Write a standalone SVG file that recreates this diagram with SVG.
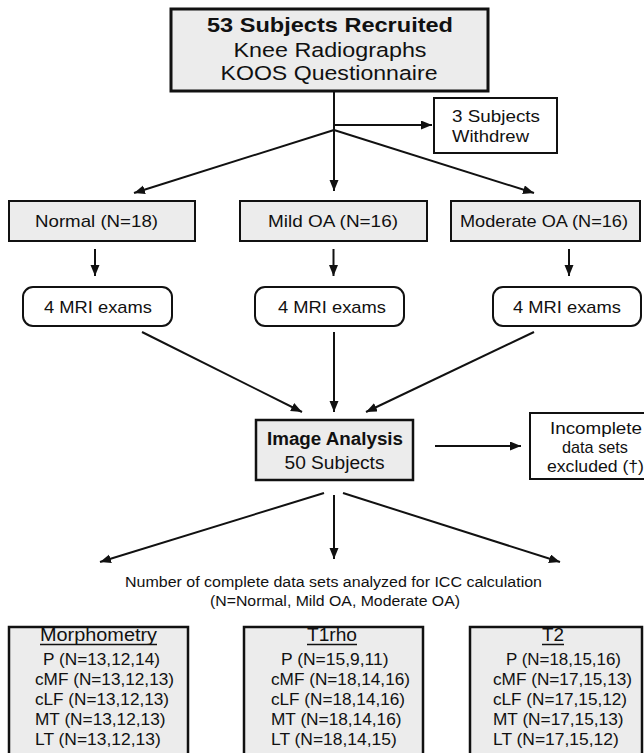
<svg xmlns="http://www.w3.org/2000/svg" width="644" height="753" viewBox="0 0 644 753">
<style>
text{font-family:"Liberation Sans",Arial,Helvetica,sans-serif;fill:#111}
.b{font-weight:bold}
.gray{fill:#ececec;stroke:#111;stroke-width:2.5}
.white{fill:#fff;stroke:#111;stroke-width:2}
.c{stroke:#111;stroke-width:2;fill:none}
.mid{text-anchor:middle}
.f20{font-size:20.5px}
.f18{font-size:18px}
.f17{font-size:17px}
.f16{font-size:16px}
.f15{font-size:15.5px}
</style>
<defs>
<marker id="ah" markerUnits="userSpaceOnUse" markerWidth="12" markerHeight="10" refX="11" refY="4.5" orient="auto">
<path d="M0,0 L11,4.5 L0,9 z" fill="#111"/>
</marker>
</defs>
<rect width="644" height="753" fill="#fff"/>

<g id="connectors">
<path class="c" d="M334,91 V191" marker-end="url(#ah)"/>
<path class="c" d="M334,125 H432" marker-end="url(#ah)"/>
<path class="c" d="M334,130 L134,193" marker-end="url(#ah)"/>
<path class="c" d="M334,130 L534,193" marker-end="url(#ah)"/>
<path class="c" d="M95,249 V276" marker-end="url(#ah)"/>
<path class="c" d="M333.5,249 V276" marker-end="url(#ah)"/>
<path class="c" d="M569,249 V276" marker-end="url(#ah)"/>
<path class="c" d="M142,332 L302,412" marker-end="url(#ah)"/>
<path class="c" d="M334,332 V412" marker-end="url(#ah)"/>
<path class="c" d="M534,332 L366,412" marker-end="url(#ah)"/>
<path class="c" d="M435,446 H521" marker-end="url(#ah)"/>
<path class="c" d="M324,493 L100,562" marker-end="url(#ah)"/>
<path class="c" d="M334,495 V559" marker-end="url(#ah)"/>
<path class="c" d="M343,493 L560,562" marker-end="url(#ah)"/>
</g>

<g id="recruited">
<rect class="gray" x="171" y="9" width="317" height="82" style="stroke-width:3"/>
<text class="b f20 mid" x="330" y="32" textLength="246" lengthAdjust="spacingAndGlyphs">53 Subjects Recruited</text>
<text class="f20 mid" x="330" y="57" textLength="193" lengthAdjust="spacingAndGlyphs">Knee Radiographs</text>
<text class="f20 mid" x="329" y="80" textLength="217" lengthAdjust="spacingAndGlyphs">KOOS Questionnaire</text>
</g>

<g id="withdrew">
<rect class="white" x="434" y="98" width="123" height="55"/>
<text class="f17" x="452" y="122" textLength="88" lengthAdjust="spacingAndGlyphs">3 Subjects</text>
<text class="f17" x="452" y="142" textLength="77" lengthAdjust="spacingAndGlyphs">Withdrew</text>
</g>

<g id="normal">
<rect class="gray" x="9" y="201" width="186" height="40" style="stroke-width:2"/>
<text class="f17 mid" x="96.5" y="227" textLength="123" lengthAdjust="spacingAndGlyphs">Normal (N=18)</text>
</g>
<g id="mild">
<rect class="gray" x="240" y="201" width="187" height="40" style="stroke-width:2"/>
<text class="f17 mid" x="333" y="227" textLength="130" lengthAdjust="spacingAndGlyphs">Mild OA (N=16)</text>
</g>
<g id="moderate">
<rect class="gray" x="451" y="201" width="189" height="40" style="stroke-width:2"/>
<text class="f17 mid" x="544" y="227" textLength="168" lengthAdjust="spacingAndGlyphs">Moderate OA (N=16)</text>
</g>

<g id="mri-normal">
<rect class="white" x="23" y="287" width="149" height="39" rx="10"/>
<text class="f17 mid" x="98" y="313" textLength="108" lengthAdjust="spacingAndGlyphs">4 MRI exams</text>
</g>
<g id="mri-mild">
<rect class="white" x="255" y="287" width="149" height="39" rx="10"/>
<text class="f17 mid" x="332" y="313" textLength="108" lengthAdjust="spacingAndGlyphs">4 MRI exams</text>
</g>
<g id="mri-moderate">
<rect class="white" x="493" y="287" width="148" height="39" rx="10"/>
<text class="f17 mid" x="567" y="313" textLength="108" lengthAdjust="spacingAndGlyphs">4 MRI exams</text>
</g>

<g id="image-analysis">
<rect class="gray" x="256" y="420" width="157" height="60"/>
<text class="b f18 mid" x="335" y="445" textLength="136" lengthAdjust="spacingAndGlyphs">Image Analysis</text>
<text class="f18 mid" x="334.5" y="469" textLength="100" lengthAdjust="spacingAndGlyphs">50 Subjects</text>
</g>

<g id="incomplete">
<rect class="white" x="530" y="413" width="130" height="66"/>
<text class="f17 mid" x="596" y="434" textLength="92" lengthAdjust="spacingAndGlyphs">Incomplete</text>
<text class="f17 mid" x="595" y="453" textLength="66" lengthAdjust="spacingAndGlyphs">data sets</text>
<text class="f17 mid" x="595.5" y="472" textLength="97" lengthAdjust="spacingAndGlyphs">excluded (†)</text>
</g>

<g id="caption">
<text class="f15 mid" x="333.5" y="587" textLength="417" lengthAdjust="spacingAndGlyphs">Number of complete data sets analyzed for ICC calculation</text>
<text class="f15 mid" x="335" y="606" textLength="250" lengthAdjust="spacingAndGlyphs">(N=Normal, Mild OA, Moderate OA)</text>
</g>

<g id="morphometry">
<rect class="gray" x="9" y="627" width="179" height="140"/>
<text class="f18 mid" x="98.5" y="641" textLength="117" lengthAdjust="spacingAndGlyphs">Morphometry</text>
<line x1="40" y1="644.5" x2="157" y2="644.5" stroke="#111" stroke-width="1.5"/>
<text class="f16" x="43" y="665" textLength="117" lengthAdjust="spacingAndGlyphs">P (N=13,12,14)</text>
<text class="f16" x="35" y="685" textLength="139" lengthAdjust="spacingAndGlyphs">cMF (N=13,12,13)</text>
<text class="f16" x="35" y="705" textLength="134" lengthAdjust="spacingAndGlyphs">cLF (N=13,12,13)</text>
<text class="f16" x="35" y="725" textLength="130.5" lengthAdjust="spacingAndGlyphs">MT (N=13,12,13)</text>
<text class="f16" x="35" y="745" textLength="125.7" lengthAdjust="spacingAndGlyphs">LT (N=13,12,13)</text>
</g>

<g id="t1rho">
<rect class="gray" x="244" y="627" width="179" height="140"/>
<text class="f18 mid" x="332" y="641" textLength="50" lengthAdjust="spacingAndGlyphs">T1rho</text>
<line x1="307" y1="644.5" x2="357" y2="644.5" stroke="#111" stroke-width="1.5"/>
<text class="f16" x="281" y="665" textLength="107.5" lengthAdjust="spacingAndGlyphs">P (N=15,9,11)</text>
<text class="f16" x="271" y="685" textLength="139" lengthAdjust="spacingAndGlyphs">cMF (N=18,14,16)</text>
<text class="f16" x="271" y="705" textLength="134" lengthAdjust="spacingAndGlyphs">cLF (N=18,14,16)</text>
<text class="f16" x="271" y="725" textLength="130.5" lengthAdjust="spacingAndGlyphs">MT (N=18,14,16)</text>
<text class="f16" x="271" y="745" textLength="125.7" lengthAdjust="spacingAndGlyphs">LT (N=18,14,15)</text>
</g>

<g id="t2">
<rect class="gray" x="470" y="627" width="172" height="140"/>
<text class="f18 mid" x="553" y="641" textLength="22" lengthAdjust="spacingAndGlyphs">T2</text>
<line x1="542" y1="644.5" x2="564" y2="644.5" stroke="#111" stroke-width="1.5"/>
<text class="f16" x="506" y="665" textLength="115" lengthAdjust="spacingAndGlyphs">P (N=18,15,16)</text>
<text class="f16" x="493" y="685" textLength="139" lengthAdjust="spacingAndGlyphs">cMF (N=17,15,13)</text>
<text class="f16" x="493" y="705" textLength="134" lengthAdjust="spacingAndGlyphs">cLF (N=17,15,12)</text>
<text class="f16" x="493" y="725" textLength="130.5" lengthAdjust="spacingAndGlyphs">MT (N=17,15,13)</text>
<text class="f16" x="493" y="745" textLength="125.7" lengthAdjust="spacingAndGlyphs">LT (N=17,15,12)</text>
</g>
</svg>
